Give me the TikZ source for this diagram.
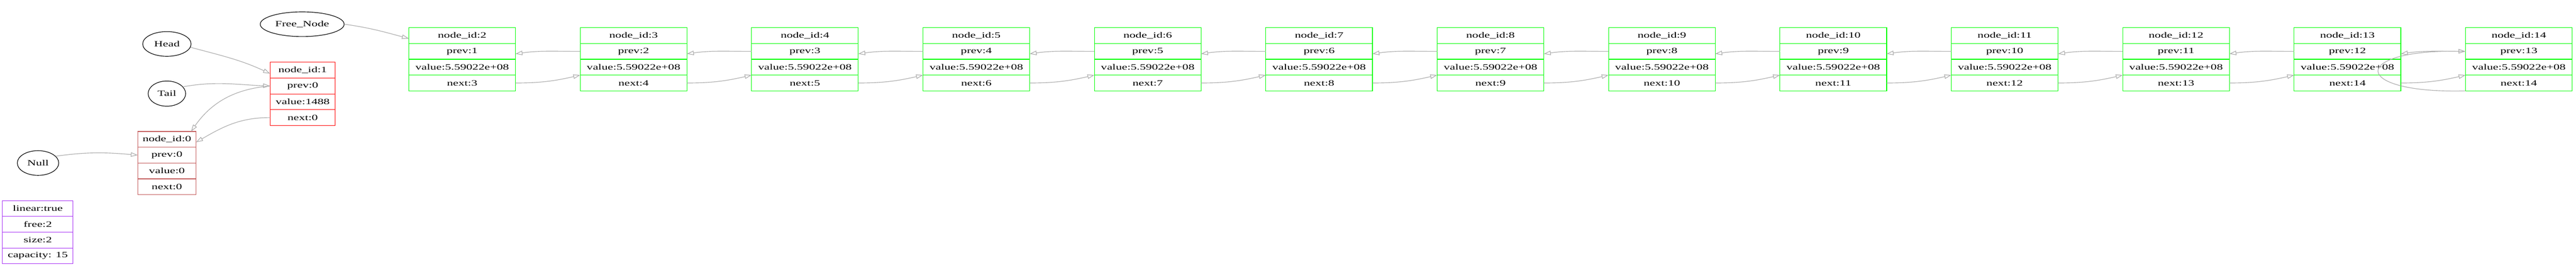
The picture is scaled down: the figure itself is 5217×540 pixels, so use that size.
\documentclass[tikz,border=0pt]{standalone}
\usepackage{fontspec}
\setmainfont{Liberation Serif}[FakeStretch=1.5]
\usetikzlibrary{arrows.meta,positioning,shapes.geometric}

\definecolor{edgegray}{HTML}{ABABAB}
\definecolor{freegreen}{HTML}{00FF00}
\definecolor{usedred}{HTML}{FF0000}
\definecolor{nullred}{HTML}{C45C5C}
\definecolor{infopurple}{HTML}{A833F5}

\tikzset{
  cell/.style={rectangle,draw,line width=0.6pt,inner sep=0pt,outer sep=0pt,minimum height=16pt},
  oval/.style={ellipse,draw,line width=0.6pt,inner sep=0pt},
  link/.style={draw=edgegray,line width=0.6pt,-{Triangle[open,length=7pt,width=4.5pt]}}
}

% list node: name, x, y of first row, width, colour, four rows
\newcommand{\listnode}[9]{%
  \node[cell,draw=#5,minimum width=#4] (#1-id) at (#2,#3) {#6};
  \node[cell,draw=#5,minimum width=#4,below=0pt of #1-id] (#1-prev) {#7};
  \node[cell,draw=#5,minimum width=#4,below=0pt of #1-prev] (#1-val) {#8};
  \node[cell,draw=#5,minimum width=#4,below=0pt of #1-val] (#1-next) {#9};
}

\begin{document}
\begin{tikzpicture}[x=0.5pt,y=-0.5pt,font=\fontsize{8.2}{10}\selectfont]
   \useasboundingbox (0,0) rectangle (5217,540);
   % pointers
   \node[oval,minimum width=85pt,minimum height=25pt] (free) at (612,49) {Free\_Node};
   \node[oval,minimum width=49pt,minimum height=25pt] (head) at (338,89) {Head};
   \node[oval,minimum width=38pt,minimum height=25.5pt] (tail) at (338,189.5) {Tail};
   \node[oval,minimum width=42pt,minimum height=25pt] (null) at (77,330) {Null};
   % list
   \listnode{n0}{338}{282}{59pt}{nullred}{node\_id:0}{prev:0}{value:0}{next:0}
   \listnode{n1}{613}{142}{66pt}{usedred}{node\_id:1}{prev:0}{value:1488}{next:0}
   \listnode{n2}{936}{72}{108pt}{freegreen}{node\_id:2}{prev:1}{value:5.59022e+08}{next:3}
   \listnode{n3}{1283.1}{72}{108pt}{freegreen}{node\_id:3}{prev:2}{value:5.59022e+08}{next:4}
   \listnode{n4}{1630.2}{72}{108pt}{freegreen}{node\_id:4}{prev:3}{value:5.59022e+08}{next:5}
   \listnode{n5}{1977.3}{72}{108pt}{freegreen}{node\_id:5}{prev:4}{value:5.59022e+08}{next:6}
   \listnode{n6}{2324.4}{72}{108pt}{freegreen}{node\_id:6}{prev:5}{value:5.59022e+08}{next:7}
   \listnode{n7}{2671.5}{72}{108pt}{freegreen}{node\_id:7}{prev:6}{value:5.59022e+08}{next:8}
   \listnode{n8}{3018.6}{72}{108pt}{freegreen}{node\_id:8}{prev:7}{value:5.59022e+08}{next:9}
   \listnode{n9}{3365.7}{72}{108pt}{freegreen}{node\_id:9}{prev:8}{value:5.59022e+08}{next:10}
   \listnode{n10}{3712.8}{72}{108pt}{freegreen}{node\_id:10}{prev:9}{value:5.59022e+08}{next:11}
   \listnode{n11}{4059.9}{72}{108pt}{freegreen}{node\_id:11}{prev:10}{value:5.59022e+08}{next:12}
   \listnode{n12}{4407.0}{72}{108pt}{freegreen}{node\_id:12}{prev:11}{value:5.59022e+08}{next:13}
   \listnode{n13}{4754.1}{72}{108pt}{freegreen}{node\_id:13}{prev:12}{value:5.59022e+08}{next:14}
   \listnode{n14}{5101.2}{72}{108pt}{freegreen}{node\_id:14}{prev:13}{value:5.59022e+08}{next:14}
   % info
   \node[cell,draw=infopurple,minimum width=71.5pt] (info-linear) at (76.5,422) {linear:true};
   \node[cell,draw=infopurple,minimum width=71.5pt,below=0pt of info-linear] (info-free) {free:2};
   \node[cell,draw=infopurple,minimum width=71.5pt,below=0pt of info-free] (info-size) {size:2};
   \node[cell,draw=infopurple,minimum width=71.5pt,below=0pt of info-size] (info-cap) {capacity: 15};
   % links
   \draw[link] (free.east) to[out=-8,in=165] ([yshift=-3pt]n2-id.west);
   \draw[link] (head.-8) to[out=-15,in=155] ([yshift=-3.5pt]n1-id.west);
   \draw[link] (tail.23) to[out=10,in=178] (n1-prev.west);
   \draw[link] (null.21) to[out=8,in=175] (n0-prev.west);
   \draw[link] (n1-prev.west) to[out=185,in=55] ([xshift=-5pt]n0-id.north east);
   \draw[link] (n1-next.west) to[out=180,in=30] ([yshift=-3pt]n0-id.east);
   \draw[link] (n2-next.east) to[out=0,in=193] (n3-next.north west);
   \draw[link] (n3-next.east) to[out=0,in=193] (n4-next.north west);
   \draw[link] (n4-next.east) to[out=0,in=193] (n5-next.north west);
   \draw[link] (n5-next.east) to[out=0,in=193] (n6-next.north west);
   \draw[link] (n6-next.east) to[out=0,in=193] (n7-next.north west);
   \draw[link] (n7-next.east) to[out=0,in=193] (n8-next.north west);
   \draw[link] (n8-next.east) to[out=0,in=193] (n9-next.north west);
   \draw[link] (n9-next.east) to[out=0,in=193] (n10-next.north west);
   \draw[link] (n10-next.east) to[out=0,in=193] (n11-next.north west);
   \draw[link] (n11-next.east) to[out=0,in=193] (n12-next.north west);
   \draw[link] (n12-next.east) to[out=0,in=193] (n13-next.north west);
   \draw[link] (n13-next.east) to[out=0,in=193] (n14-next.north west);
   \draw[link] (n3-prev.west) to[out=180,in=8] ([yshift=-2.5pt]n2-prev.east);
   \draw[link] (n4-prev.west) to[out=180,in=8] ([yshift=-2.5pt]n3-prev.east);
   \draw[link] (n5-prev.west) to[out=180,in=8] ([yshift=-2.5pt]n4-prev.east);
   \draw[link] (n6-prev.west) to[out=180,in=8] ([yshift=-2.5pt]n5-prev.east);
   \draw[link] (n7-prev.west) to[out=180,in=8] ([yshift=-2.5pt]n6-prev.east);
   \draw[link] (n8-prev.west) to[out=180,in=8] ([yshift=-2.5pt]n7-prev.east);
   \draw[link] (n9-prev.west) to[out=180,in=8] ([yshift=-2.5pt]n8-prev.east);
   \draw[link] (n10-prev.west) to[out=180,in=8] ([yshift=-2.5pt]n9-prev.east);
   \draw[link] (n11-prev.west) to[out=180,in=8] ([yshift=-2.5pt]n10-prev.east);
   \draw[link] (n12-prev.west) to[out=180,in=8] ([yshift=-2.5pt]n11-prev.east);
   \draw[link] (n13-prev.west) to[out=180,in=8] ([yshift=-2.5pt]n12-prev.east);
   \draw[link] (n14-prev.west) to[out=180,in=8] ([yshift=-2.5pt]n13-prev.east);
   \draw[link] (n14-next.south west) .. controls +(-234,6) and +(-234,-4) .. (n14-prev.west);
\end{tikzpicture}
\end{document}
